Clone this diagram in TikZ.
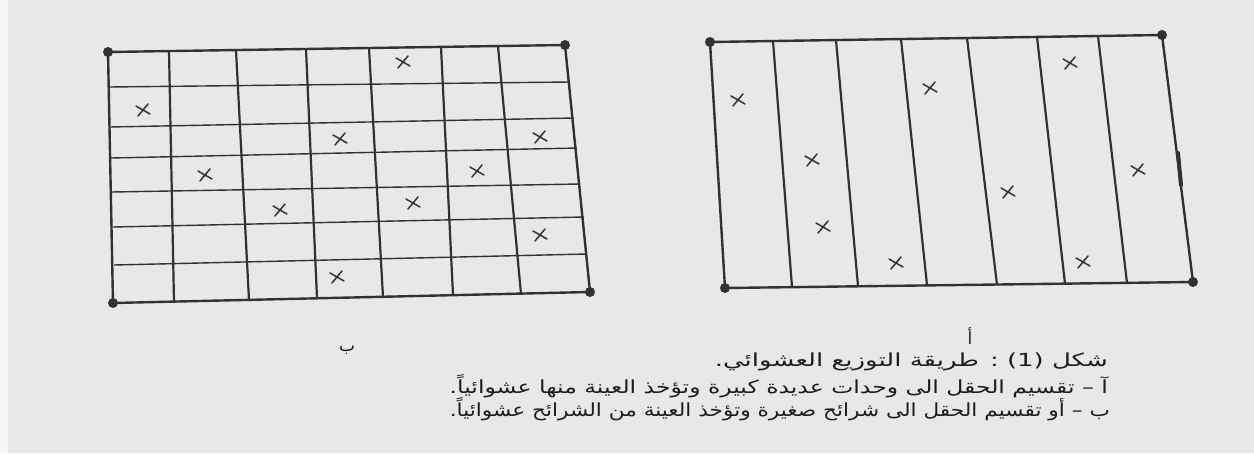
\documentclass[tikz,border=0pt]{standalone}
\usepackage{fontspec}
\usepackage{graphicx}
\newfontfamily\arabicfont[Script=Arabic]{DejaVu Sans}
\TeXXeTstate=1
\definecolor{paper}{RGB}{232,232,232}
\definecolor{paperlight}{RGB}{246,246,246}
\definecolor{ink}{RGB}{50,50,50}
\definecolor{txt}{RGB}{28,28,28}
\begin{document}
\begin{tikzpicture}[x=1pt,y=-1pt,
  border/.style={ink,line width=2.4pt,line cap=round},
  vline/.style={ink,line width=2.2pt},
  hline/.style={ink,line width=1.4pt},
  dotc/.style={ink,fill=ink},
  xstroke/.style={ink,line width=1.5pt,line cap=round},
  xm/.pic={\draw[xstroke] (-7,-4)--(7,4) (-5,6)--(5,-6);},
  captxt/.style={anchor=east,inner sep=0pt,text=txt,font=\arabicfont\fontsize{18}{21}\selectfont},
  lab/.style={inner sep=0pt,text=txt,font=\arabicfont\fontsize{17}{19}\selectfont}]
\fill[paper] (0,0) rectangle (1254,453);
\fill[paperlight] (0,0) rectangle (8,453);
\useasboundingbox (0,0) rectangle (1254,453);

% ---------- left grid (b) ----------
\coordinate (LA) at (108,52);
\coordinate (LB) at (565,45);
\coordinate (LC) at (590,292);
\coordinate (LD) at (113,303);
% horizontals
\foreach \yl/\xl/\yr/\xr in {87/109/82/570, 127/110/118/574, 158/111/148/577, 192/112/184/580, 227/113/217/584, 265/114/254/587}
  \draw[hline] (\xl,\yl) -- (\xr,\yr);
% verticals
\foreach \xt/\yt/\xb/\yb in {169/51/174/302, 236/50/249/300, 306/49/317/298, 369/48/383/297, 441/47/453/295, 498/46/521/294}
  \draw[vline] (\xt,\yt) -- (\xb,\yb);
\draw[border] (LA) -- (LB) -- (LC) -- (LD) -- cycle;
\foreach \p in {LA,LB,LC,LD} \fill[dotc] (\p) circle (5);
% sample marks
\foreach \px/\py in {403/62, 143/110, 340/139, 540/137, 205/175, 477/171, 280/210, 413/203, 540/235, 337/277}
  \pic at (\px,\py) {xm};

% ---------- right grid (a) ----------
\coordinate (RA) at (710,42);
\coordinate (RB) at (1162,35);
\coordinate (RC) at (1193,282);
\coordinate (RD) at (725,288);
\foreach \xt/\yt/\xb/\yb in {773/41/792/287, 836/40/858/286, 901/39/927/285, 967/38/997/284.5, 1037/37/1065/283.6, 1098/36/1127/283}
  \draw[vline] (\xt,\yt) -- (\xb,\yb);
\draw[border] (RA) -- (RB) -- (RC) -- (RD) -- cycle;
\draw[ink,line width=4pt,line cap=round] (1178,153) -- (1181,185);
\foreach \p in {RA,RB,RC,RD} \fill[dotc] (\p) circle (5);
\foreach \px/\py in {738/100, 812/160, 823/227, 930/88, 896/263, 1008/192, 1070/63, 1138/170, 1083/262}
  \pic at (\px,\py) {xm};

% ---------- labels ----------
\node[lab] (la) at (970,336) {\beginR أ\endR};
\node[lab] (lb) at (347,350) {\beginR ب\endR};

% ---------- caption ----------
\node[captxt] (c1) at (1108,362) {\resizebox{393pt}{\height}{\beginR شكل (1) : طريقة التوزيع العشوائي.\endR}};
\node[captxt] (c2) at (1108,386) {\resizebox{658pt}{\height}{\beginR آ – تقسيم الحقل الى وحدات عديدة كبيرة وتؤخذ العينة منها عشوائياً.\endR}};
\node[captxt] (c3) at (1110,409) {\resizebox{660pt}{\height}{\beginR ب – أو تقسيم الحقل الى شرائح صغيرة وتؤخذ العينة من الشرائح عشوائياً.\endR}};
\end{tikzpicture}
\end{document}
